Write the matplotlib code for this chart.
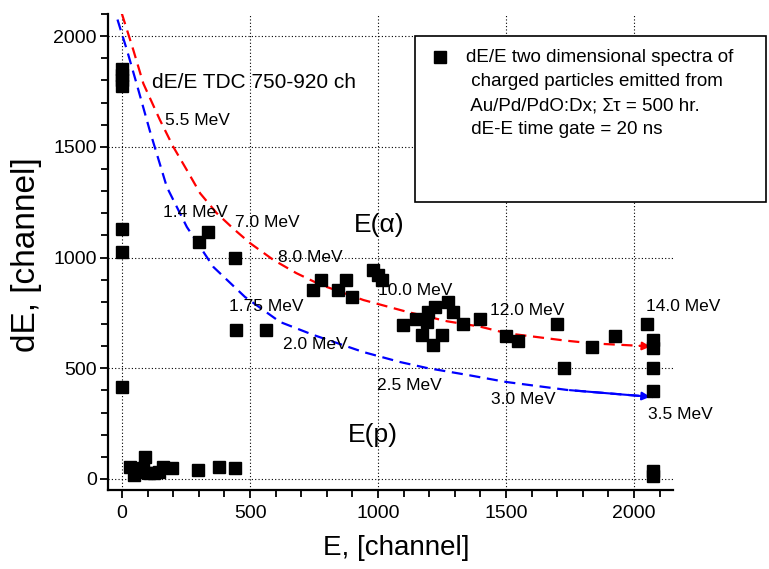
import matplotlib
matplotlib.use("Agg")
import matplotlib.pyplot as plt
from matplotlib.patches import Rectangle
from matplotlib.lines import Line2D
from matplotlib.ticker import MultipleLocator

plt.rcParams["font.family"] = ["Liberation Sans", "DejaVu Sans"]

# measured dE/E events (E channel, dE channel)
e_ch = [0, 0, 0, 0, 0, 0, 0,
        31, 45, 65, 82, 90, 105, 125, 145, 160, 195, 297, 379, 441,
        301, 336, 441, 445, 563,
        747, 777, 844, 875, 898, 980, 1000, 1015,
        1098, 1148, 1191, 1195, 1223, 1172, 1215, 1250, 1273, 1293, 1332,
        1398, 1500, 1547, 1699, 1727, 1836, 1926, 2051,
        2074, 2074, 2074, 2074, 2074, 2074]
de_ch = [1775, 1800, 1825, 1850, 1129, 1025, 415,
         54, 20, 30, 50, 100, 25, 25, 30, 54, 50, 41, 54, 50,
         1070, 1115, 998, 673, 673,
         853, 898, 853, 898, 822, 944, 921, 898,
         695, 722, 709, 754, 776, 650, 605, 650, 799, 754, 700,
         722, 646, 623, 700, 501, 596, 646, 700,
         628, 591, 501, 397, 15, 35]

# alpha calibration curve
alpha_e = [-1, 44, 83, 148, 200, 253, 305, 370, 435, 500, 590, 680, 773,
           943, 1112, 1270, 1398, 1503, 1730, 1840, 2010, 2075]
alpha_de = [2102, 1937, 1786, 1621, 1500, 1395, 1290, 1200, 1130, 1065, 990, 930, 878,
            808, 755, 712, 688, 658, 625, 612, 602, 597]

# proton calibration curve
proton_e = [-18, 19, 58, 109, 175, 253, 357, 480, 617, 748, 943, 1086, 1191,
            1348, 1500, 1738, 2074]
proton_de = [2075, 1937, 1780, 1570, 1318, 1138, 957, 822, 709, 650, 573, 528, 501,
             470, 438, 402, 370]

alpha_labels = ["5.5 MeV", "7.0 MeV", "8.0 MeV", "10.0 MeV", "12.0 MeV", "14.0 MeV"]
alpha_label_x = [168, 441, 609, 1000, 1437, 2047]
alpha_label_y = [1621, 1160, 1002, 849, 760, 777]

proton_labels = ["1.4 MeV", "1.75 MeV", "2.0 MeV", "2.5 MeV", "3.0 MeV", "3.5 MeV"]
proton_label_x = [160, 418, 629, 996, 1441, 2055]
proton_label_y = [1205, 781, 605, 424, 357, 293]

legend_lines = ["dE/E two dimensional spectra of",
                " charged particles emitted from",
                " Au/Pd/PdO:Dx; Στ = 500 hr.",
                " dE-E time gate = 20 ns"]

fig = plt.figure(figsize=(7.69, 5.69), dpi=100)
ax = fig.add_axes([108 / 769, 1 - 490 / 569, 565 / 769, 476 / 569])

ax.set_xlim(-55, 2152)
ax.set_ylim(-50, 2100)

ax.xaxis.set_major_locator(MultipleLocator(500))
ax.xaxis.set_minor_locator(MultipleLocator(100))
ax.yaxis.set_major_locator(MultipleLocator(500))
ax.yaxis.set_minor_locator(MultipleLocator(100))
ax.tick_params(which="both", direction="out", width=1.3, labelsize=14)
ax.tick_params(which="major", length=6)
ax.tick_params(which="minor", length=5)
ax.tick_params(axis="y", pad=2)
ax.tick_params(axis="x", pad=5)

for s in ["top", "right"]:
    ax.spines[s].set_visible(False)
for s in ["left", "bottom"]:
    ax.spines[s].set_linewidth(1.6)

ax.grid(True, which="major", color="black", linestyle=(0, (1, 2)), linewidth=0.8)
ax.set_axisbelow(True)

ax.plot(alpha_e, alpha_de, color="red", linestyle=(0, (5, 3)), lw=1.6, zorder=3)
ax.plot(proton_e, proton_de, color="blue", linestyle=(0, (5, 3)), lw=1.6, zorder=3)
ax.annotate("", xy=(alpha_e[-1], alpha_de[-1]), xytext=(alpha_e[-2], alpha_de[-2]),
            arrowprops=dict(arrowstyle="-|>", color="red", lw=1.5, mutation_scale=12))
ax.annotate("", xy=(proton_e[-1], proton_de[-1]), xytext=(proton_e[-2], proton_de[-2]),
            arrowprops=dict(arrowstyle="-|>", color="blue", lw=1.5, mutation_scale=12))

ax.plot(e_ch, de_ch, linestyle="none", marker="s", markersize=8,
        color="black", zorder=4)

for lab, x, y in zip(alpha_labels, alpha_label_x, alpha_label_y):
    ax.text(x, y, lab, fontsize=12.5, ha="left", va="center", zorder=5)
for lab, x, y in zip(proton_labels, proton_label_x, proton_label_y):
    ax.text(x, y, lab, fontsize=12.5, ha="left", va="center", zorder=5)

ax.text(117, 1792, "dE/E TDC 750-920 ch", fontsize=15, ha="left", va="center")
ax.text(905, 1147, "E(α)", fontsize=19, ha="left", va="center")
ax.text(882, 199, "E(p)", fontsize=19, ha="left", va="center")

fig.text(27 / 769, 1 - 255 / 569, "dE, [channel]", rotation=90,
         fontsize=24, ha="center", va="center")
fig.text(396 / 769, 1 - 548 / 569, "E, [channel]", fontsize=20,
         ha="center", va="center")

# legend box sits partly outside the axes
fig.add_artist(Rectangle((415 / 769, 1 - 202 / 569), 351 / 769, 166 / 569,
                         transform=fig.transFigure, facecolor="white",
                         edgecolor="black", linewidth=1.2, zorder=10))
fig.add_artist(Line2D([440 / 769], [1 - 57 / 569], marker="s", markersize=8,
                      color="black", linestyle="none",
                      transform=fig.transFigure, zorder=11))
for i, line in enumerate(legend_lines):
    fig.text(466 / 769, 1 - (58 + 24 * i) / 569, line, fontsize=13.5,
             ha="left", va="center", zorder=11)

fig.savefig("out.png", dpi=100)
